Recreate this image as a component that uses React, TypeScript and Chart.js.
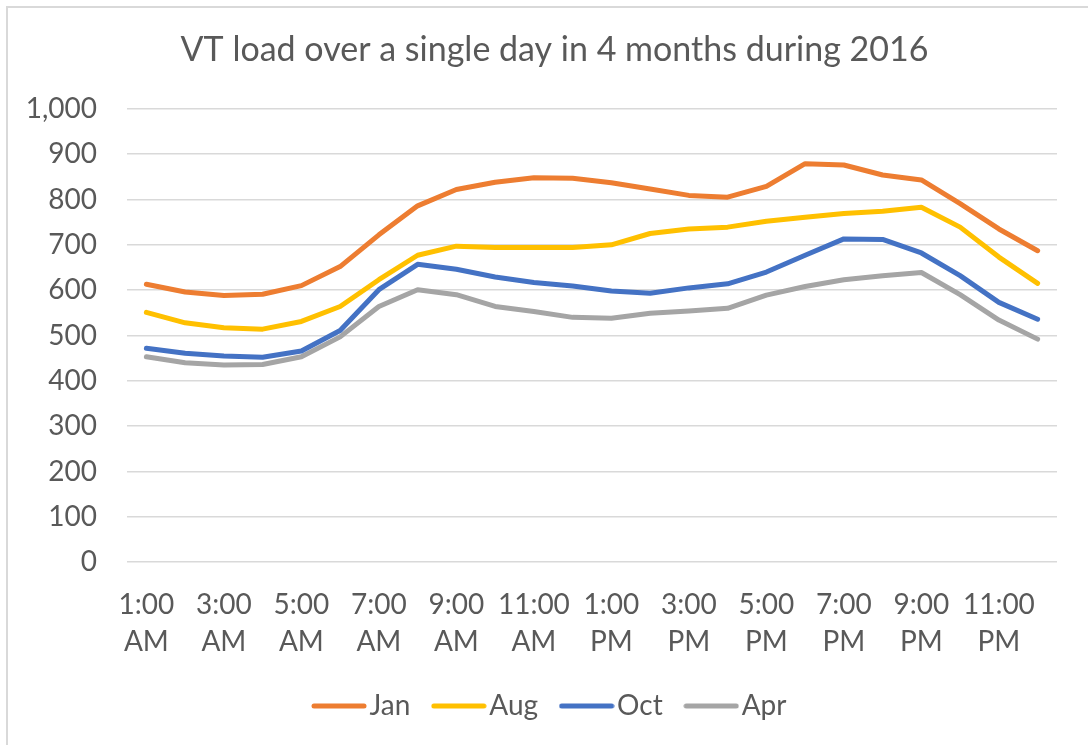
import React, { useEffect, useRef } from 'react';
import { Chart, registerables } from 'chart.js';

Chart.register(...registerables);

const hourLabels = [
  '1:00 AM', '2:00 AM', '3:00 AM', '4:00 AM', '5:00 AM', '6:00 AM',
  '7:00 AM', '8:00 AM', '9:00 AM', '10:00 AM', '11:00 AM', '12:00 PM',
  '1:00 PM', '2:00 PM', '3:00 PM', '4:00 PM', '5:00 PM', '6:00 PM',
  '7:00 PM', '8:00 PM', '9:00 PM', '10:00 PM', '11:00 PM', '12:00 AM',
];

const janLoad = [613, 596, 588, 591, 610, 652, 722, 786, 822, 838, 848, 847, 837, 823, 809, 805, 829, 879, 876, 854, 843, 791, 735, 687];
const augLoad = [551, 528, 517, 514, 531, 564, 623, 677, 697, 694, 694, 694, 700, 725, 735, 739, 752, 761, 769, 774, 783, 739, 673, 615];
const octLoad = [472, 461, 455, 452, 466, 511, 601, 657, 646, 629, 617, 609, 598, 593, 605, 614, 640, 677, 713, 712, 682, 632, 573, 536];
const aprLoad = [453, 440, 435, 436, 453, 497, 564, 601, 590, 564, 553, 540, 538, 549, 554, 560, 589, 608, 623, 632, 639, 590, 534, 492];

const seriesNames = ['Jan', 'Aug', 'Oct', 'Apr'];
const seriesColors = ['#ED7D31', '#FFC000', '#4472C4', '#A5A5A5'];
const seriesValues = [janLoad, augLoad, octLoad, aprLoad];

const yTickValues = [0, 100, 200, 300, 400, 500, 600, 700, 800, 900, 1000];

const TEXT = '#595959';
const GRID = '#D9D9D9';

function makeLegendLine(color: string): HTMLCanvasElement {
  const c = document.createElement('canvas');
  c.width = 56;
  c.height = 6;
  const g = c.getContext('2d');
  if (g) {
    g.strokeStyle = color;
    g.lineWidth = 5;
    g.lineCap = 'round';
    g.beginPath();
    g.moveTo(3, 3);
    g.lineTo(53, 3);
    g.stroke();
  }
  return c;
}

export default function App() {
  const ref = useRef<HTMLCanvasElement | null>(null);

  useEffect(() => {
    if (!ref.current) return;
    Chart.defaults.font.family = 'Lato';
    Chart.defaults.color = TEXT;

    const chart = new Chart(ref.current, {
      type: 'line',
      data: {
        labels: hourLabels,
        datasets: seriesNames.map((name, i) => ({
          label: name,
          data: seriesValues[i],
          borderColor: seriesColors[i],
          backgroundColor: seriesColors[i],
          borderWidth: 5,
          borderJoinStyle: 'round',
          borderCapStyle: 'round',
          pointRadius: 0,
          pointHoverRadius: 0,
          pointStyle: makeLegendLine(seriesColors[i]),
          tension: 0,
          fill: false,
        })),
      },
      options: {
        responsive: false,
        animation: false,
        events: [],
        layout: { padding: { left: 52, right: 31, top: 6, bottom: 15 } },
        plugins: {
          title: {
            display: true,
            text: 'VT load over a single day in 4 months during 2016',
            color: TEXT,
            font: { size: 34, weight: 'normal' },
            padding: { top: 24, bottom: 38 },
          },
          legend: {
            position: 'bottom',
            labels: {
              usePointStyle: true,
              pointStyleWidth: 33,
              color: TEXT,
              font: { size: 28 },
              padding: 32,
            },
          },
          tooltip: { enabled: false },
        },
        scales: {
          x: {
            offset: true,
            grid: { display: false },
            border: { display: false },
            ticks: {
              autoSkip: false,
              maxRotation: 0,
              minRotation: 0,
              padding: 17,
              color: TEXT,
              font: { size: 28, lineHeight: 1.3 },
              callback: (_v: any, i: number) => (i % 2 === 0 ? hourLabels[i].split(' ') : ''),
            },
            afterFit: (s: any) => {
              s.height = s.height - 17;
            },
          },
          y: {
            min: yTickValues[0],
            max: yTickValues[yTickValues.length - 1],
            grid: { color: GRID, lineWidth: 1.5, drawTicks: false },
            border: { display: false },
            ticks: {
              stepSize: 100,
              padding: 30,
              color: TEXT,
              font: { size: 28 },
              callback: (v: any) => Number(v).toLocaleString('en-US'),
            },
            afterFit: (s: any) => {
              s.width = 75;
              s._computeLabelArea = () => undefined;
            },
          },
        },
      },
    } as any);

    return () => chart.destroy();
  }, []);

  return (
    <div>
      <div
        style={{
          position: 'fixed',
          left: 6,
          top: 6,
          width: 1200,
          height: 900,
          borderLeft: '2px solid #D9D9D9',
          borderTop: '2px solid #D9D9D9',
          boxSizing: 'border-box',
        }}
      />
      <canvas
        ref={ref}
        width={1088}
        height={745}
        style={{ position: 'fixed', left: 0, top: 0, width: 1088, height: 745 }}
      />
    </div>
  );
}
